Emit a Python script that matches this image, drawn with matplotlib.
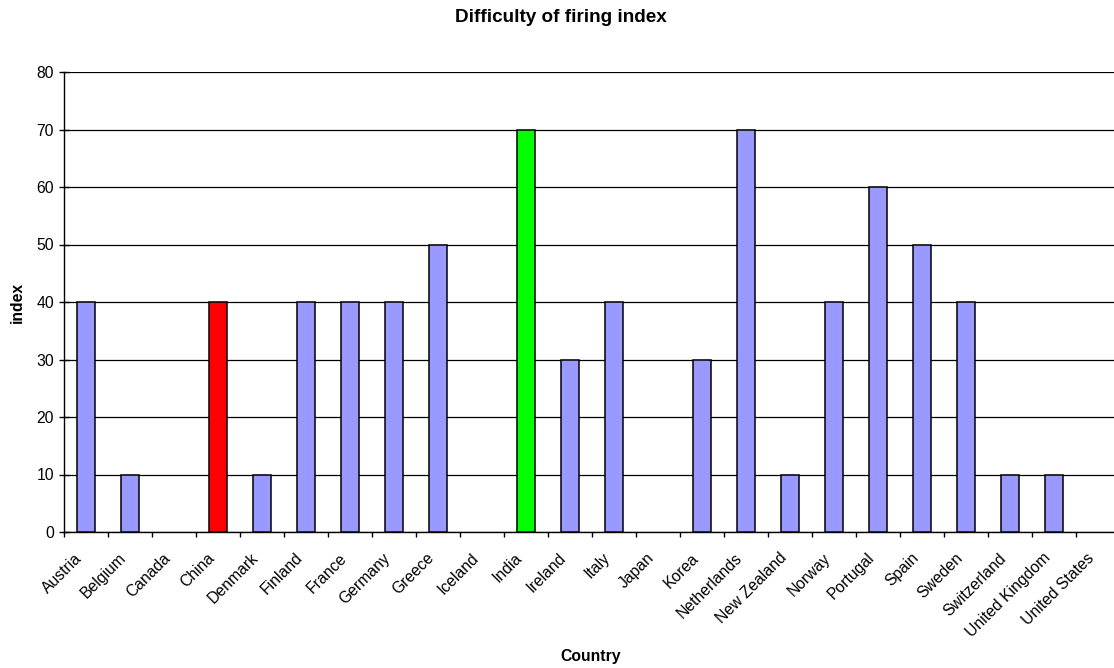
import matplotlib
matplotlib.use("Agg")
import matplotlib.pyplot as plt
import matplotlib.transforms as mtransforms
import numpy as np

plt.rcParams['font.family'] = ['Liberation Sans', 'DejaVu Sans']

countries = ["Austria", "Belgium", "Canada", "China", "Denmark", "Finland", "France",
             "Germany", "Greece", "Iceland", "India", "Ireland", "Italy", "Japan",
             "Korea", "Netherlands", "New Zealand", "Norway", "Portugal", "Spain",
             "Sweden", "Switzerland", "United Kingdom", "United States"]
index_values = [40, 10, 0, 40, 10, 40, 40, 40, 50, 0, 70, 30, 40, 0, 30, 70,
                10, 40, 60, 50, 40, 10, 10, 0]
highlight = {"China": "#FF0000", "India": "#00FF00"}
base_color = "#9999FF"

fig = plt.figure(figsize=(11.14, 6.68), dpi=100)
ax = fig.add_axes([64/1114, 136/668, 1056/1114, 460/668])

x = np.arange(len(countries))
colors = [highlight.get(c, base_color) for c in countries]
edge_widths = [1.1 if v > 0 else 0 for v in index_values]
ax.bar(x, index_values, width=0.41, color=colors, edgecolor="black",
       linewidth=edge_widths, zorder=3)

ax.set_xlim(-0.5, len(countries) - 0.5)
ax.set_ylim(0, 80)
ax.set_yticks(np.arange(0, 81, 10))
ax.yaxis.grid(True, color="black", linewidth=0.9, zorder=0)
ax.set_axisbelow(True)

# category labels at centers, tick marks at category boundaries
ax.set_xticks(x)
ax.set_xticklabels(countries, rotation=45, ha="right", va="center",
                   rotation_mode="anchor", fontsize=11.3)
ax.tick_params(axis="x", which="major", length=0, pad=17)
shift = mtransforms.ScaledTranslation(-6/100, 0, fig.dpi_scale_trans)
for lbl in ax.get_xticklabels():
    lbl.set_transform(lbl.get_transform() + shift)
ax.set_xticks(np.arange(-0.5, len(countries) + 0.5, 1), minor=True)
ax.tick_params(axis="x", which="minor", length=3.6, width=1, color="black", direction="out")
ax.tick_params(axis="y", length=6.5, width=1, direction="inout", labelsize=11.3, pad=4)

for s in ["top", "right"]:
    ax.spines[s].set_visible(False)
for s in ["left", "bottom"]:
    ax.spines[s].set_color("black")
    ax.spines[s].set_linewidth(1.0)

fig.text(561/1114, 1 - 17/668, "Difficulty of firing index", ha="center", va="center",
         fontsize=13.6, fontweight="bold")
fig.text(591/1114, 1 - 657/668, "Country", ha="center", va="center",
         fontsize=11.3, fontweight="bold")
fig.text(17/1114, 1 - 302/668, "index", ha="center", va="center", rotation=90,
         fontsize=11.3, fontweight="bold")

fig.savefig("out.png", dpi=100)
